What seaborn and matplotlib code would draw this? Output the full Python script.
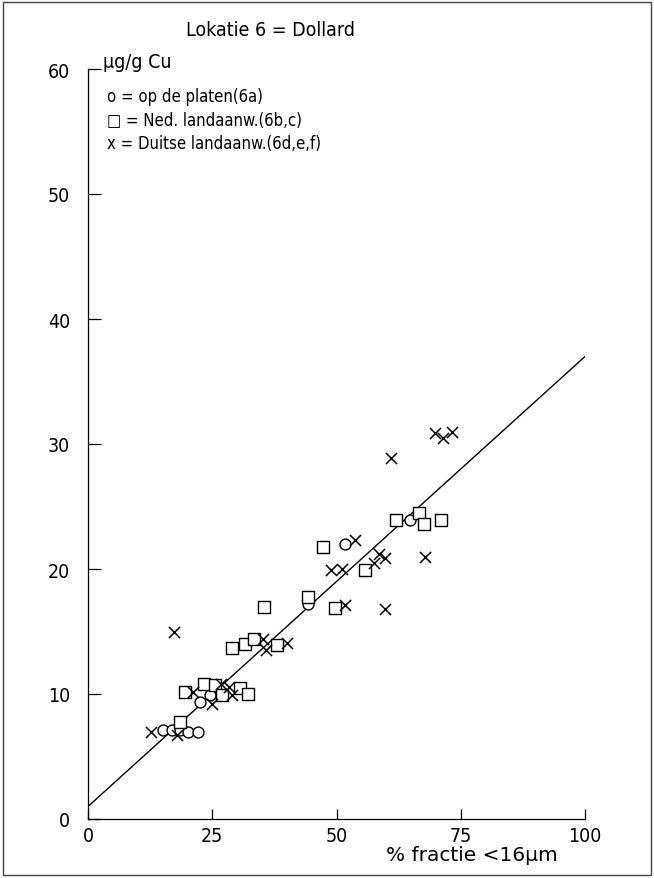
import matplotlib
matplotlib.use("Agg")
import matplotlib.pyplot as plt
import seaborn as sns
from matplotlib.patches import Rectangle

# ---- data ----
circle_x = [15.0, 17.0, 18.6, 20.2, 22.2, 22.5, 24.5, 44.3, 51.8, 64.8]
circle_y = [7.1, 7.1, 7.1, 7.0, 7.0, 9.4, 9.9, 17.2, 22.0, 23.9]

square_x = [18.6, 19.5, 23.3, 25.6, 26.9, 30.6, 32.1, 29.0, 31.6, 33.3,
            38.0, 35.4, 44.3, 49.7, 47.3, 55.7, 62.0, 66.7, 67.7, 71.0]
square_y = [7.8, 10.2, 10.8, 10.7, 9.9, 10.5, 10.0, 13.7, 14.0, 14.4,
            13.9, 17.0, 17.8, 16.9, 21.8, 19.9, 23.9, 24.5, 23.6, 23.9]

cross_x = [12.7, 17.9, 17.3, 21.2, 24.9, 26.7, 28.4, 29.0, 35.3, 35.9,
           40.0, 48.8, 51.2, 51.8, 53.7, 57.5, 58.5, 59.8, 59.8, 61.0,
           67.9, 69.8, 71.5, 73.3]
cross_y = [7.0, 6.7, 15.0, 10.2, 9.2, 10.8, 10.6, 9.9, 14.4, 13.5,
           14.1, 19.9, 20.0, 17.1, 22.3, 20.5, 21.2, 20.9, 16.8, 28.9,
           21.0, 30.9, 30.5, 31.0]

fit_x = [0, 100]
fit_y = [1.0, 37.0]

x_ticks = [0, 25, 50, 75, 100]
y_ticks = [0, 10, 20, 30, 40, 50, 60]

title = "Lokatie 6 = Dollard"
unit_label = "\u00b5g/g Cu"
legend_lines = ["o = op de platen(6a)",
                "\u25a1 = Ned. landaanw.(6b,c)",
                "x = Duitse landaanw.(6d,e,f)"]
x_label = "% fractie <16\u00b5m"

# ---- style ----
sns.set_style("ticks")
plt.rcParams["font.family"] = ["DejaVu Sans"]
plt.rcParams["font.stretch"] = "condensed"
plt.rcParams["text.color"] = "black"

W, H = 654, 879
fig = plt.figure(figsize=(W / 100, H / 100), dpi=100)
ax = fig.add_axes([88 / W, (H - 820) / H, 497 / W, 750 / H])

ax.plot(fit_x, fit_y, color="black", lw=1.0, zorder=2)

sns.scatterplot(x=circle_x, y=circle_y, marker="o", s=62, color="white",
                edgecolor="black", linewidth=1.0, ax=ax, zorder=3)
sns.scatterplot(x=square_x, y=square_y, marker="s", s=70, color="white",
                edgecolor="black", linewidth=1.0, ax=ax, zorder=3)
sns.scatterplot(x=cross_x, y=cross_y, marker="x", s=64, color="black",
                linewidth=1.1, ax=ax, zorder=4)

ax.set_xlim(0, 100)
ax.set_ylim(0, 60)
ax.set_xticks(x_ticks)
ax.set_yticks(y_ticks)
ax.set_xticklabels([str(v) for v in x_ticks])
ax.set_yticklabels([str(v) for v in y_ticks])
ax.set_xlabel("")
ax.set_ylabel("")
for side in ["top", "right"]:
    ax.spines[side].set_visible(False)
for side in ["left", "bottom"]:
    ax.spines[side].set_linewidth(0.9)
    ax.spines[side].set_color("black")
ax.tick_params(axis="y", direction="in", length=9.5, width=0.9, pad=13,
               labelsize=14, colors="black")
ax.tick_params(axis="x", direction="in", length=7, width=0.9, pad=5,
               labelsize=14, colors="black")
ax.patch.set_alpha(0)

# texts
fig.text(271 / W, 1 - 30 / H, title, ha="center", va="center", fontsize=14)
fig.text(103 / W, 1 - 63 / H, unit_label, ha="left", va="center", fontsize=14)
for i, line in enumerate(legend_lines):
    fig.text(107 / W, 1 - (97 + 23.5 * i) / H, line, ha="left", va="center",
             fontsize=12)
fig.text(386 / W, 1 - 856 / H, x_label, ha="left", va="center",
         fontsize=14.5, fontstretch="normal")

# scanned page frame
fig.patches.append(Rectangle((3 / W, 3 / H), (W - 6) / W, (H - 6) / H,
                             transform=fig.transFigure, fill=False,
                             edgecolor="#444444", lw=1.0))

fig.savefig("out.png", dpi=100)
